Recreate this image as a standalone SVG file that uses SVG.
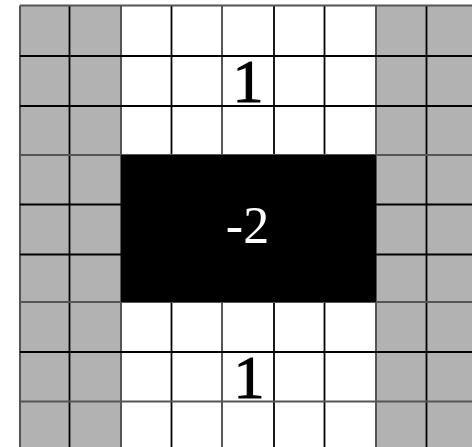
<svg xmlns="http://www.w3.org/2000/svg" width="472" height="447" viewBox="0 0 472 447">
<style>
.g{fill:#b2b2b2}
.w{fill:#ffffff}
.k{fill:#000000}
.ln{stroke:#000;stroke-width:1.8;fill:none}
.lt{stroke:#555;stroke-width:2;fill:none}
.t{font-family:"Liberation Serif","Times New Roman",serif;text-anchor:middle}
.one{fill:#000;stroke:#000;stroke-width:1.2}
</style>
<rect width="472" height="447" fill="#ffffff"/>
<g id="cells">
<rect class="g" x="20" y="5.5" width="101" height="450"/>
<rect class="g" x="376" y="5.5" width="101" height="450"/>
<rect class="w" x="121" y="5.5" width="255" height="450"/>
</g>
<g id="grid">
<line class="lt" x1="20" y1="5.5" x2="20" y2="447"/>
<line class="ln" x1="69.5" y1="5.5" x2="69.5" y2="447"/>
<line class="lt" x1="121" y1="5.5" x2="121" y2="447"/>
<line class="ln" x1="171.5" y1="5.5" x2="171.5" y2="447"/>
<line class="lt" x1="222" y1="5.5" x2="222" y2="447"/>
<line class="ln" x1="274" y1="5.5" x2="274" y2="447"/>
<line class="ln" x1="324.5" y1="5.5" x2="324.5" y2="447"/>
<line class="lt" x1="376" y1="5.5" x2="376" y2="447"/>
<line class="ln" x1="426.5" y1="5.5" x2="426.5" y2="447"/>
<line class="lt" x1="20" y1="5.5" x2="472" y2="5.5"/>
<line class="ln" x1="20" y1="56" x2="472" y2="56"/>
<line class="ln" x1="20" y1="106" x2="472" y2="106"/>
<line class="lt" x1="20" y1="155" x2="472" y2="155"/>
<line class="ln" x1="20" y1="204.5" x2="472" y2="204.5"/>
<line class="ln" x1="20" y1="254.5" x2="472" y2="254.5"/>
<line class="lt" x1="20" y1="302" x2="472" y2="302"/>
<line class="ln" x1="20" y1="352" x2="472" y2="352"/>
<line class="lt" x1="20" y1="401.5" x2="472" y2="401.5"/>
</g>
<g id="block">
<rect class="k" x="121" y="155" width="255" height="147"/>
<text class="t" x="247.5" y="243.3" font-size="52" fill="#ffffff">-2</text>
</g>
<g id="label-top">
<text class="t one" x="248" y="102" font-size="62">1</text>
</g>
<g id="label-bottom">
<text class="t one" x="249" y="398" font-size="62">1</text>
</g>
</svg>
